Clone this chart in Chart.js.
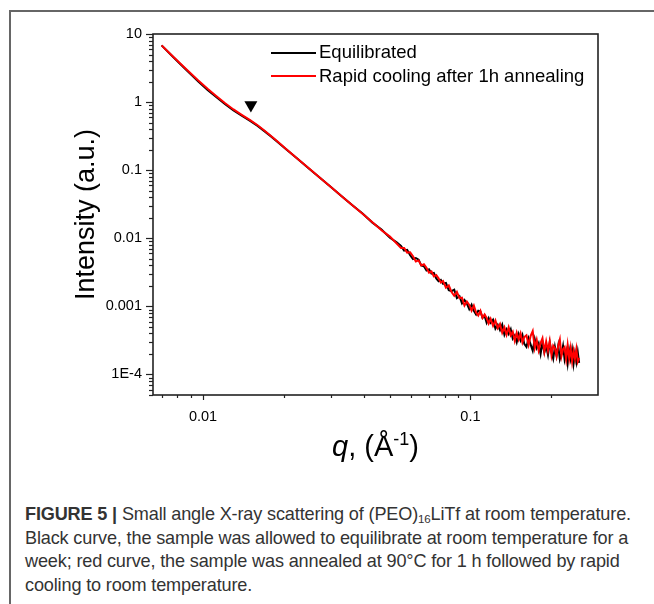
<!DOCTYPE html>
<html>
<head>
<meta charset="utf-8">
<script src="https://cdn.jsdelivr.net/npm/chart.js@4.4.0/dist/chart.umd.min.js"></script>
<style>
  body { margin: 0; background: #fff; }
  #wrap { position: relative; width: 654px; height: 604px; overflow: hidden; font-family: "Liberation Sans", Arial, sans-serif; }
  #frame { position: absolute; left: 9px; top: 10px; width: 700px; height: 700px; border-left: 2px solid #666; border-top: 2px solid #666; }
  #myChart { position: absolute; left: 0; top: 0; }
  .leg { position: absolute; left: 271px; height: 20px; font-size: 18.5px; line-height: 18.5px; color: #000; white-space: nowrap; }
  .leg span { position: absolute; left: 0; width: 45px; height: 2px; }
  .leg div { position: absolute; left: 48px; top: 0; }
  #xtitle { position: absolute; left: 153px; width: 445px; top: 432px; text-align: center; font-size: 29px; line-height: 29px; color: #000; }
  #xtitle sup { font-size: 18px; vertical-align: 11px; line-height: 0; }
  #caption { position: absolute; left: 25px; top: 503px; font-size: 18.1px; line-height: 23.5px; color: #333; letter-spacing: -0.15px; white-space: nowrap; }
  #caption sub { font-size: 11.5px; vertical-align: -3px; line-height: 0; }
</style>
</head>
<body>
<div id="wrap">
  <div id="frame"></div>
  <canvas id="myChart" width="654" height="480"></canvas>
  <div class="leg" style="top:43px"><span style="top:9px;background:#000"></span><div>Equilibrated</div></div>
  <div class="leg" style="top:67px"><span style="top:8px;background:#ff0000"></span><div>Rapid cooling after 1h annealing</div></div>
  <div id="xtitle"><i>q</i>, (Å<sup>-1</sup>)</div>
  <div id="caption"><b>FIGURE 5 |</b> Small angle X-ray scattering of (PEO)<sub>16</sub>LiTf at room temperature.<br>Black curve, the sample was allowed to equilibrate at room temperature for a<br>week; red curve, the sample was annealed at 90°C for 1 h followed by rapid<br>cooling to room temperature.</div>
</div>
<script>
// q values (1/Å)
const q = [0.0070, 0.0076, 0.0082, 0.0089, 0.0096, 0.0104, 0.0112, 0.0121, 0.0130, 0.0140,
  0.0150, 0.0160, 0.0170, 0.0180, 0.0190, 0.0205, 0.0225, 0.0250, 0.0275, 0.0300,
  0.0330, 0.0360, 0.0395, 0.0430, 0.0465, 0.0500, 0.0530,
  0.0550, 0.0565, 0.0580, 0.0595, 0.0610, 0.0625, 0.0640, 0.0655, 0.0670, 0.0685,
  0.0700, 0.0715, 0.0730, 0.0745, 0.0760, 0.0775, 0.0790,
  0.081, 0.083, 0.085, 0.087, 0.089, 0.091, 0.093, 0.095, 0.097, 0.099,
  0.101, 0.103, 0.105, 0.107, 0.109, 0.111, 0.113, 0.115, 0.117, 0.119,
  0.1215, 0.124, 0.1265, 0.129, 0.1315, 0.134, 0.1365, 0.139, 0.1415, 0.144,
  0.1465, 0.149, 0.1515, 0.154, 0.1565, 0.159,
  0.162, 0.165, 0.168, 0.171, 0.174, 0.177, 0.180, 0.183, 0.186, 0.189,
  0.192, 0.195, 0.198, 0.201, 0.204, 0.207, 0.210, 0.213, 0.216, 0.219,
  0.222, 0.225, 0.228, 0.231, 0.234, 0.237, 0.240, 0.243, 0.246, 0.249,
  0.252, 0.255];

// Equilibrated (black)
const equilibrated = [6.8, 4.92, 3.66, 2.68, 2.01, 1.51, 1.19, 0.93, 0.757, 0.628,
  0.530, 0.447, 0.372, 0.311, 0.260, 0.201, 0.148, 0.1045, 0.0762, 0.0571,
  0.0415, 0.0310, 0.0231, 0.0170, 0.0135, 0.0102, 0.0087,
  7.74e-3, 6.60e-3, 6.78e-3, 5.67e-3, 4.97e-3, 5.14e-3, 4.86e-3, 4.00e-3, 3.88e-3, 3.36e-3,
  3.50e-3, 3.04e-3, 3.11e-3, 2.58e-3, 2.35e-3, 2.46e-3, 2.15e-3,
  2.21e-3, 1.73e-3, 1.67e-3, 1.76e-3, 1.32e-3, 1.41e-3, 1.11e-3, 1.24e-3, 1.10e-3, 9.12e-4,
  1.06e-3, 8.58e-4, 7.58e-4, 8.65e-4, 8.40e-4, 6.79e-4, 7.26e-4, 5.76e-4, 6.75e-4, 5.73e-4,
  6.37e-4, 4.71e-4, 5.39e-4, 4.49e-4, 5.40e-4, 3.82e-4, 4.61e-4, 3.93e-4, 4.63e-4, 3.37e-4,
  3.76e-4, 2.98e-4, 3.92e-4, 3.17e-4, 3.80e-4, 2.81e-4,
  2.54e-4, 3.41e-4, 2.75e-4, 2.23e-4, 3.30e-4, 2.45e-4, 2.88e-4, 2.00e-4, 2.97e-4, 2.11e-4,
  2.61e-4, 1.94e-4, 2.95e-4, 2.14e-4, 1.71e-4, 2.55e-4, 1.90e-4, 2.64e-4, 1.68e-4, 2.03e-4,
  2.63e-4, 1.67e-4, 2.18e-4, 1.45e-4, 2.26e-4, 1.69e-4, 2.30e-4, 1.43e-4, 2.04e-4, 1.52e-4,
  2.13e-4, 1.48e-4];

// Rapid cooling after 1h annealing (red)
const rapidCooling = [6.8, 4.95, 3.72, 2.75, 2.08, 1.57, 1.23, 0.96, 0.78, 0.645,
  0.543, 0.457, 0.380, 0.316, 0.263, 0.203, 0.149, 0.105, 0.0764, 0.0572,
  0.0416, 0.0311, 0.0229, 0.0172, 0.0131, 0.0106, 0.0084,
  7.23e-3, 7.23e-3, 6.17e-3, 6.22e-3, 5.45e-3, 4.58e-3, 4.74e-3, 4.00e-3, 4.16e-3, 3.68e-3,
  3.12e-3, 3.26e-3, 2.77e-3, 2.89e-3, 2.58e-3, 2.24e-3, 2.36e-3,
  1.88e-3, 2.03e-3, 1.63e-3, 1.43e-3, 1.63e-3, 1.32e-3, 1.34e-3, 1.03e-3, 1.18e-3, 1.05e-3,
  8.65e-4, 1.03e-3, 8.13e-4, 7.36e-4, 8.59e-4, 6.79e-4, 7.60e-4, 6.76e-4, 5.61e-4, 6.58e-4,
  5.18e-4, 6.21e-4, 4.80e-4, 5.52e-4, 4.09e-4, 4.92e-4, 3.83e-4, 4.94e-4, 3.76e-4, 4.24e-4,
  3.13e-4, 4.11e-4, 3.26e-4, 4.00e-4, 2.95e-4, 3.54e-4,
  3.76e-4, 2.71e-4, 3.71e-4, 4.35e-4, 2.45e-4, 3.23e-4, 2.24e-4, 2.89e-4, 3.41e-4, 2.16e-4,
  3.06e-4, 2.23e-4, 3.09e-4, 1.91e-4, 2.65e-4, 2.43e-4, 1.86e-4, 2.64e-4, 3.27e-4, 1.86e-4,
  2.35e-4, 2.53e-4, 1.69e-4, 2.70e-4, 1.72e-4, 2.44e-4, 1.55e-4, 2.22e-4, 1.70e-4, 2.36e-4,
  1.54e-4, 1.75e-4];

// arrow marker above the shoulder
const markerQ = [0.0151];
const markerI = [0.91];

// axis ticks
const xTickValues = [0.007, 0.008, 0.009, 0.01, 0.02, 0.03, 0.04, 0.05, 0.06, 0.07, 0.08, 0.09, 0.1, 0.2];
const xTickLabels = ['', '', '', '0.01', '', '', '', '', '', '', '', '', '0.1', ''];
const yMajorValues = [1e-4, 1e-3, 0.01, 0.1, 1, 10];
const yMajorLabels = ['1E-4', '0.001', '0.01', '0.1', '1', '10'];

const xTicks = xTickValues.map((v, i) => ({value: v, label: xTickLabels[i], major: xTickLabels[i] !== ''}));
const yTicks = [];
[5e-5, 6e-5, 7e-5, 8e-5, 9e-5].forEach(v => yTicks.push({value: v, label: '', major: false}));
yMajorValues.forEach((v, i) => {
    yTicks.push({value: v, label: yMajorLabels[i], major: true});
    if (v < 10) {
        for (let k = 2; k <= 9; k++) yTicks.push({value: +(k * v).toPrecision(3), label: '', major: false});
    }
});

const tickFont = {family: '"Liberation Sans", Arial, sans-serif', size: 14.5};

const axisMarks = {
    id: 'axisMarks',
    afterDatasetsDraw(chart) {
        const {ctx, chartArea: a, scales: {x, y}} = chart;
        ctx.save();
        ctx.strokeStyle = '#222';
        ctx.lineWidth = 1.2;
        x.ticks.forEach(t => {
            const px = Math.round(x.getPixelForValue(t.value)) + 0.5;
            ctx.beginPath();
            ctx.moveTo(px, a.bottom);
            ctx.lineTo(px, a.bottom + (t.major ? 5 : 3));
            ctx.stroke();
        });
        y.ticks.forEach(t => {
            const py = Math.round(y.getPixelForValue(t.value)) + 0.5;
            ctx.beginPath();
            ctx.moveTo(a.left, py);
            ctx.lineTo(a.left - (t.major ? 7 : 4), py);
            ctx.stroke();
        });
        ctx.lineWidth = 1.6;
        ctx.strokeRect(a.left, a.top, a.right - a.left, a.bottom - a.top);
        ctx.restore();
    }
};

const ctx = document.getElementById('myChart').getContext('2d');

new Chart(ctx, {
    type: 'scatter',
    data: {
        datasets: [{
            label: 'Arrow',
            data: markerQ.map((v, i) => ({x: v, y: markerI[i]})),
            pointStyle: 'triangle',
            rotation: 180,
            pointRadius: 7.5,
            backgroundColor: '#000',
            borderColor: '#000',
            borderWidth: 0,
            order: 0
        }, {
            label: 'Rapid cooling after 1h annealing',
            data: q.map((v, i) => ({x: v, y: rapidCooling[i]})),
            showLine: true,
            borderColor: '#ff0000',
            borderWidth: 2,
            pointRadius: 0,
            order: 1
        }, {
            label: 'Equilibrated',
            data: q.map((v, i) => ({x: v, y: equilibrated[i]})),
            showLine: true,
            borderColor: '#000',
            borderWidth: 2,
            pointRadius: 0,
            order: 2
        }]
    },
    options: {
        responsive: false,
        animation: false,
        devicePixelRatio: 1,
        layout: {padding: {top: 34, right: 56, left: 0, bottom: 0}},
        plugins: {
            legend: {display: false},
            tooltip: {enabled: false}
        },
        scales: {
            x: {
                type: 'logarithmic',
                min: 0.0065,
                max: 0.3,
                grid: {display: false, drawTicks: false},
                border: {display: false},
                afterBuildTicks: s => { s.ticks = xTicks.map(t => ({value: t.value, major: t.major})); },
                afterFit: s => { s.height = 85; },
                ticks: {
                    autoSkip: false,
                    maxRotation: 0,
                    padding: 13,
                    color: '#000',
                    font: tickFont,
                    callback: (v, i) => xTicks[i].label
                }
            },
            y: {
                type: 'logarithmic',
                min: 5e-5,
                max: 10,
                grid: {display: false, drawTicks: false},
                border: {display: false},
                afterBuildTicks: s => { s.ticks = yTicks.map(t => ({value: t.value, major: t.major})); },
                afterFit: s => { s.width = 153; },
                ticks: {
                    autoSkip: false,
                    padding: 11,
                    color: '#000',
                    font: tickFont,
                    callback: (v, i) => yTicks[i].label
                },
                title: {
                    display: true,
                    text: 'Intensity (a.u.)',
                    color: '#000',
                    font: {family: '"Liberation Sans", Arial, sans-serif', size: 27},
                    padding: {top: 70, bottom: 0}
                }
            }
        }
    },
    plugins: [axisMarks]
});
</script>
</body>
</html>
